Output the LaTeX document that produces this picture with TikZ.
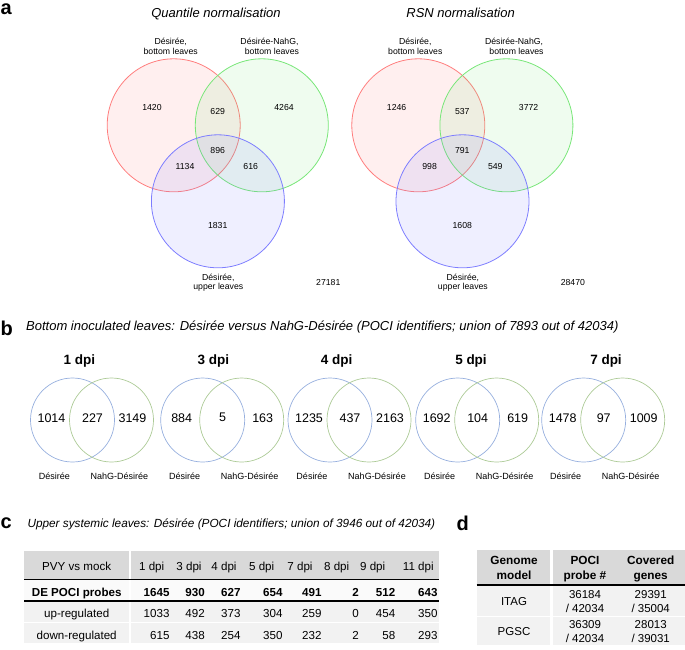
\documentclass[tikz,border=0pt]{standalone}
\usepackage{fontspec}
\setmainfont{Liberation Sans}
\usepackage{xcolor}
\usepackage{tikz}
\usetikzlibrary{positioning}
\definecolor{vennred}{RGB}{255, 125, 125}
\definecolor{venngreen}{RGB}{120, 230, 120}
\definecolor{vennblue}{RGB}{125, 125, 255}
\definecolor{smallblue}{RGB}{150, 175, 222}
\definecolor{smallgreen}{RGB}{172, 202, 150}
\definecolor{headgray}{RGB}{217, 217, 217}
\definecolor{rowgray}{RGB}{242, 242, 242}
\definecolor{rowlight}{RGB}{250, 250, 250}
\tikzstyle{panel} = [font=\fontsize{20}{20}\selectfont\bfseries, anchor=base west, inner sep=0pt]
\tikzstyle{vtitle} = [font=\fontsize{13}{13}\selectfont\itshape, anchor=base, inner sep=0pt]
\tikzstyle{ptitle} = [font=\fontsize{13}{13}\selectfont\itshape, anchor=base west, inner sep=0pt]
\tikzstyle{bigset} = [circle, minimum size=133pt, inner sep=0pt, line width=0.8pt, fill opacity=0.12, draw opacity=1]
\tikzstyle{vlabel} = [font=\fontsize{8.7}{9.4}\selectfont, align=center, inner sep=0pt]
\tikzstyle{vnum} = [font=\fontsize{8.7}{9.4}\selectfont, inner sep=0pt]
\tikzstyle{smallset} = [circle, minimum size=84pt, inner sep=0pt, line width=0.7pt]
\tikzstyle{dpititle} = [font=\fontsize{13.5}{13.5}\selectfont\bfseries, inner sep=0pt]
\tikzstyle{snum} = [font=\fontsize{12.5}{12.5}\selectfont, inner sep=0pt]
\tikzstyle{slabel} = [font=\fontsize{9}{9}\selectfont, inner sep=0pt]
\tikzstyle{cell} = [font=\fontsize{11.6}{11.6}\selectfont, inner sep=0pt, anchor=base]
\tikzstyle{dcell} = [font=\fontsize{11.5}{14.3}\selectfont, inner sep=0pt, align=center, text depth=0pt]
\tikzstyle{dhead} = [font=\fontsize{11.8}{15}\selectfont\bfseries, inner sep=0pt, align=center, text depth=0pt]

\begin{document}
\begin{tikzpicture}[x=1pt, y=-1pt]
    \useasboundingbox (0,0) rectangle (685,649);

    % Panel letters
    \node[panel] (pa) at (0.5,14) {a};
    \node[panel] (pb) at (0.5,335) {b};
    \node[panel] (pc) at (0.5,528.5) {c};
    \node[panel] (pd) at (456.5,530) {d};

    % a: three-set Venn diagrams
    \foreach \dx/\k/\ttl/\na/\nb/\nc/\nd/\ne/\nf/\ng/\tot in {0/q/Quantile normalisation/1420/629/4264/896/1134/616/1831/27181, 244.6/r/RSN normalisation/1246/537/3772/791/998/549/1608/28470} {
        \begin{scope}[xshift=\dx]
            \node[vtitle] (title\k) at (216,17.5) {\ttl};
            \node[bigset, draw=vennred, fill=vennred] (red\k) at (173.7,125.3) {};
            \node[bigset, draw=venngreen, fill=venngreen] (green\k) at (261.8,125.3) {};
            \node[bigset, draw=vennblue, fill=vennblue] (blue\k) at (217.9,201.3) {};
            \node[vlabel] (lred\k) at (170.7,46.5) {Désirée,\\bottom leaves};
            \node[vlabel] (lgreen\k) at (269.5,46.5) {Désirée-NahG,\\\ \ bottom leaves};
            \node[vlabel] (lblue\k) at (218.3,282.5) {Désirée,\\upper leaves};
            \node[vnum] (r1\k) at (152,107) {\na};
            \node[vnum] (rg\k) at (217.7,111.3) {\nb};
            \node[vnum] (g1\k) at (284,107) {\nc};
            \node[vnum] (all\k) at (217.7,150.4) {\nd};
            \node[vnum] (rb\k) at (185,166.5) {\ne};
            \node[vnum] (gb\k) at (250.7,166.5) {\nf};
            \node[vnum] (b1\k) at (217.7,225.8) {\ng};
            \node[vnum] (tot\k) at (328.3,282.7) {\tot};
        \end{scope}
    }

    % b: two-set Venn diagrams per time point
    \node[ptitle] (btitle) at (26,330.5) {Bottom inoculated leaves: Désirée versus NahG-Désirée (POCI identifiers; union of 7893 out of 42034)};
    \foreach \b/\tx/\k/\nl/\nm/\nr in {72.5/79.3/1/1014/227/3149, 202.7/213.3/3/884/5/163, 330/336.7/4/1235/437/2163, 457.7/471/5/1692/104/619, 583.7/606/7/1478/97/1009} {
        \node[dpititle] (dpi\k) at (\tx,361) {\k\ dpi};
        \node[smallset, draw=smallblue] (sb\k) at (\b,420) {};
        \node[smallset, draw=smallgreen] (sg\k) at (\b+39,420) {};
        \node[snum] (nl\k) at (\b-21,417.7) {\nl};
        \node[snum] (nm\k) at (\b+20,417.7) {\nm};
        \node[snum] (nr\k) at (\b+60,417.7) {\nr};
        \node[slabel] (ll\k) at (\b-18,476.7) {Désirée};
        \node[slabel] (lr\k) at (\b+47,476.7) {NahG-Désirée};
    }

    % c: upper systemic leaves table
    \node[ptitle, font=\fontsize{11.8}{11.8}\selectfont\itshape] (ctitle) at (27.3,527.5) {Upper systemic leaves: Désirée (POCI identifiers; union of 3946 out of 42034)};
    \fill[headgray] (24.3,551) rectangle (439.3,578.5);
    \fill[rowlight] (24.3,580) rectangle (439.3,600.5);
    \fill[rowgray] (24.3,602) rectangle (439.3,621.8);
    \fill[rowgray] (24.3,623.3) rectangle (439.3,642.7);
    \draw[white, line width=2.5pt] (130,551) -- (130,642.7);
    \draw[line width=1.6pt] (24.3,579.3) -- (439.3,579.3);
    \draw[line width=1.6pt] (24.3,601.2) -- (439.3,601.2);
    \node[cell] (chead) at (76.7,570.7) {PVY vs mock};
    \node[cell, font=\fontsize{11.6}{11.6}\selectfont\bfseries] (cde) at (76.7,596) {DE POCI probes};
    \node[cell] (cup) at (76.7,617.7) {up-regulated};
    \node[cell] (cdown) at (76.7,639.3) {down-regulated};
    \foreach \x/\h in {151.7/1, 189/3, 224/4, 261.7/5, 300/7, 336.7/8, 372.7/9, 418.3/11}
        \node[cell] (h\h) at (\x,570.7) {\h\ dpi};
    \foreach \x/\p/\u/\d [count=\i] in {169.7/1645/1033/615, 205/930/492/438, 240.7/627/373/254, 282.7/654/304/350, 321.7/491/259/232, 359/2/0/2, 395.5/512/454/58, 437.7/643/350/293} {
        \node[cell, anchor=base east, font=\fontsize{11.6}{11.6}\selectfont\bfseries] (p\i) at (\x,596) {\p};
        \node[cell, anchor=base east] (u\i) at (\x,617.7) {\u};
        \node[cell, anchor=base east] (d\i) at (\x,639.3) {\d};
    }

    % d: genome model table
    \fill[headgray] (476.7,550) rectangle (685,584.3);
    \fill[rowgray] (476.7,586) rectangle (685,615.7);
    \fill[rowgray] (476.7,617.2) rectangle (685,645);
    \draw[white, line width=2.5pt] (551.7,550) -- (551.7,645);
    \draw[line width=1.6pt] (476.7,585.2) -- (685,585.2);
    \node[dhead] (dgm) at (514,568) {Genome\\model};
    \node[dhead] (dpoci) at (585,568) {POCI\\probe \#};
    \node[dhead] (dcov) at (650.7,568) {Covered\\genes};
    \node[dcell] (itag) at (514,601) {ITAG};
    \node[dcell] (itagp) at (585,601.2) {36184\\/ 42034};
    \node[dcell] (itagg) at (650.7,601.2) {29391\\/ 35004};
    \node[dcell] (pgsc) at (514,631.7) {PGSC};
    \node[dcell] (pgscp) at (585,631.7) {36309\\/ 42034};
    \node[dcell] (pgscg) at (650.7,631.7) {28013\\/ 39031};
\end{tikzpicture}
\end{document}
